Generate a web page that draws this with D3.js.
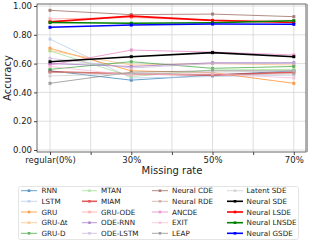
<!DOCTYPE html>
<html><head><meta charset="utf-8">
<script src="https://cdn.jsdelivr.net/npm/d3@7"></script>
<style>body{margin:0;background:#fff}svg{display:block}text{font-family:"DejaVu Sans",sans-serif}</style>
</head><body><svg id="c" width="309" height="243"></svg>
<script>
const categories = ["regular(0%)", "30%", "50%", "70%"];
const methods = ["RNN","LSTM","GRU","GRU-Δt","GRU-D","MTAN","MIAM","GRU-ODE","ODE-RNN","ODE-LSTM",
  "Neural CDE","Neural RDE","ANCDE","EXIT","LEAP","Latent SDE","Neural SDE","Neural LSDE","Neural LNSDE","Neural GSDE"];
const values = [
  [0.550,0.485,0.520,0.550],
  [0.770,0.500,0.510,0.520],
  [0.706,0.550,0.537,0.463],
  [0.690,0.590,0.600,0.590],
  [0.560,0.613,0.567,0.580],
  [0.688,0.510,0.556,0.560],
  [0.543,0.530,0.520,0.540],
  [0.910,0.920,0.900,0.900],
  [0.600,0.580,0.606,0.606],
  [0.637,0.570,0.600,0.600],
  [0.970,0.940,0.944,0.926],
  [0.540,0.530,0.520,0.530],
  [0.590,0.694,0.680,0.660],
  [0.580,0.520,0.530,0.500],
  [0.463,0.540,0.550,0.550],
  [0.514,0.530,0.540,0.550],
  [0.613,0.648,0.676,0.648],
  [0.890,0.930,0.900,0.885],
  [0.885,0.880,0.884,0.898],
  [0.852,0.868,0.875,0.873]
];
const colors = ["#1f77b4","#aec7e8","#ff7f0e","#ffbb78","#2ca02c","#98df8a","#d62728","#ff9896","#9467bd","#c5b0d5",
  "#8c564b","#c49c94","#e377c2","#f7b6d2","#7f7f7f","#c7c7c7","#000000","#ff0000","#008000","#0000ff"];
const yTicks = [0,0.2,0.4,0.6,0.8,1.0];

const svg = d3.select("#c");
const L=37, R=306, T=4, B=152;
const x = d3.scaleLinear().domain([-0.16, 3.15]).range([L,R]);
const y = d3.scaleLinear().domain([-0.014, 1.014]).range([B,T]);

// grid
const minor = [0,0.5,1,1.5,2,2.5,3];
svg.append("g").selectAll("line").data(minor).join("line")
  .attr("x1",d=>x(d)).attr("x2",d=>x(d)).attr("y1",T).attr("y2",B)
  .attr("stroke","#d6d6d6").attr("stroke-width",0.8);
svg.append("g").selectAll("line").data(yTicks).join("line")
  .attr("x1",L).attr("x2",R).attr("y1",d=>y(d)).attr("y2",d=>y(d))
  .attr("stroke","#d6d6d6").attr("stroke-width",0.8);

// lines
const line = d3.line().x((d,i)=>x(i)).y(d=>y(d));
methods.forEach((m,k)=>{
  const strong = k>=16;
  const g = svg.append("g").attr("opacity", strong?1:0.75);
  g.append("path").datum(values[k]).attr("d",line).attr("fill","none")
    .attr("stroke",colors[k]).attr("stroke-width",strong?1.6:(k===6?1.6:0.9));
  g.selectAll("rect").data(values[k]).join("rect")
    .attr("x",(d,i)=>x(i)-1.5).attr("y",d=>y(d)-1.5).attr("width",3).attr("height",3)
    .attr("fill",colors[k]);
});

// frame
svg.append("rect").attr("x",L).attr("y",T).attr("width",R-L).attr("height",B-T)
  .attr("fill","none").attr("stroke","#444").attr("stroke-width",0.8);
svg.append("line").attr("x1",R+1).attr("x2",R+1).attr("y1",T).attr("y2",B).attr("stroke","#aaa").attr("stroke-width",2);

// axes
const ya = svg.append("g").attr("transform",`translate(${L},0)`)
  .call(d3.axisLeft(y).tickValues(yTicks).tickFormat(d3.format(".2f")).tickSize(3).tickPadding(2));
const xa = svg.append("g").attr("transform",`translate(0,${B})`)
  .call(d3.axisBottom(x).tickValues(minor).tickFormat(d=>Number.isInteger(d)?categories[d]:"").tickSize(3).tickPadding(1.5));
[ya,xa].forEach(a=>{a.select(".domain").remove();a.selectAll("text").attr("font-size",8.5).attr("fill","#222")
  .attr("font-family","DejaVu Sans");a.selectAll("line").attr("stroke","#444");});

svg.append("text").attr("x",172).attr("y",174).attr("text-anchor","middle").attr("font-size",10).attr("fill","#222").text("Missing rate");
svg.append("text").attr("transform","translate(11,78) rotate(-90)").attr("text-anchor","middle").attr("font-size",10).attr("fill","#222").text("Accuracy");

// legend
svg.append("rect").attr("x",18.5).attr("y",186.5).attr("width",280).attr("height",53).attr("rx",2)
  .attr("fill","#fff").attr("stroke","#ddd").attr("stroke-width",0.8);
const colX=[[21,37,41.5],[82,97,101],[152,168,172],[227,243,246.5]];
const rowY=[190.7,201.3,212,222.7,233.3];
methods.forEach((m,k)=>{
  const c=Math.floor(k/5), r=k%5, strong=k>=16;
  const g=svg.append("g").attr("opacity",strong?1:0.75);
  g.append("line").attr("x1",colX[c][0]).attr("x2",colX[c][1]).attr("y1",rowY[r]).attr("y2",rowY[r])
    .attr("stroke",colors[k]).attr("stroke-width",strong||k===6?1.6:0.9);
  g.append("rect").attr("x",(colX[c][0]+colX[c][1])/2-1.3).attr("y",rowY[r]-1.3).attr("width",2.6).attr("height",2.6).attr("fill",colors[k]);
  svg.append("text").attr("x",colX[c][2]).attr("y",rowY[r]).attr("dy","0.35em").attr("font-size",7.2).attr("fill","#222").text(m);
});
</script></body></html>
